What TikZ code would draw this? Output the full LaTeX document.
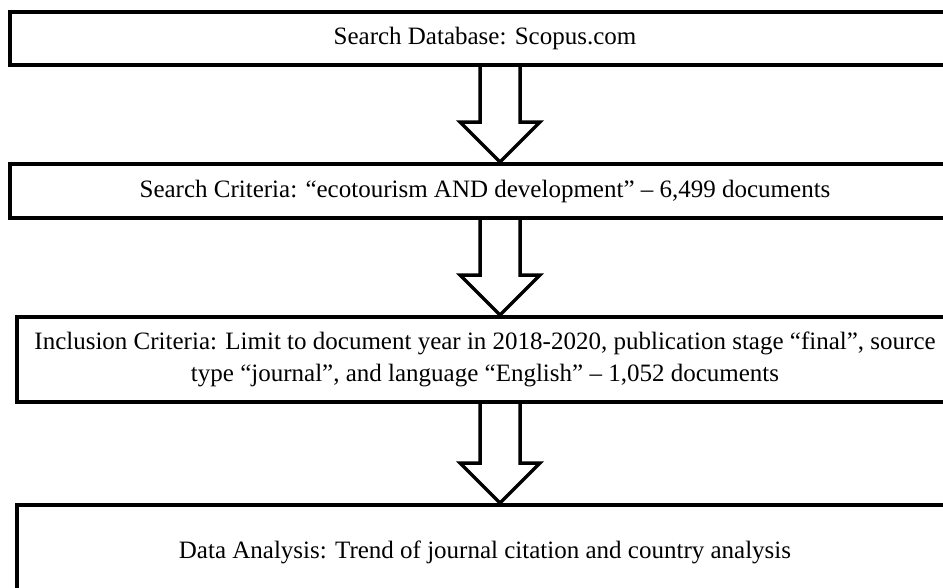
\documentclass[tikz,border=0pt]{standalone}
\usepackage{fontspec}
\setmainfont{Liberation Serif}
\usetikzlibrary{calc}

\begin{document}
\begin{tikzpicture}[x=1pt, y=-1pt,
    box/.style={draw, rectangle, line width=4pt, inner sep=0pt, align=center,
        font=\fontsize{25}{32}\selectfont},
    blockarrow/.style={line width=3.5pt, to path={
        let \p1=(\tikztostart), \p2=(\tikztotarget) in
        (\x1-20pt,\y1) -- (\x1-20pt,\y2+40pt) -- (\x1-40pt,\y2+40pt) -- (\tikztotarget)
        -- (\x1+40pt,\y2+40pt) -- (\x1+20pt,\y2+40pt) -- (\x1+20pt,\y1)}}]
    \useasboundingbox (0,0) rectangle (943,587);
    \clip (0,0) rectangle (943,587);
    \coordinate (ax) at (500,0);
    % the four steps, top to bottom
    \node[box, minimum width=951pt, minimum height=53pt] (db) at (485,38.5) {Search Database: Scopus.com};
    \node[box, minimum width=951pt, minimum height=54pt] (crit) at (485,191) {Search Criteria: “ecotourism AND development” – 6,499 documents};
    \node[box, minimum width=937pt, minimum height=85pt] (incl) at (485,359.5) {Inclusion Criteria: Limit to document year in 2018-2020, publication stage “final”, source\\type “journal”, and language “English” – 1,052 documents};
    \node[box, minimum width=937pt, minimum height=95pt] (ana) at (485,552.5) {Data Analysis: Trend of journal citation and country analysis};
    % hollow arrows between the steps
    \draw[blockarrow] (db.south -| ax) to (crit.north -| ax);
    \draw[blockarrow] (crit.south -| ax) to (incl.north -| ax);
    \draw[blockarrow] (incl.south -| ax) to (ana.north -| ax);
\end{tikzpicture}
\end{document}
